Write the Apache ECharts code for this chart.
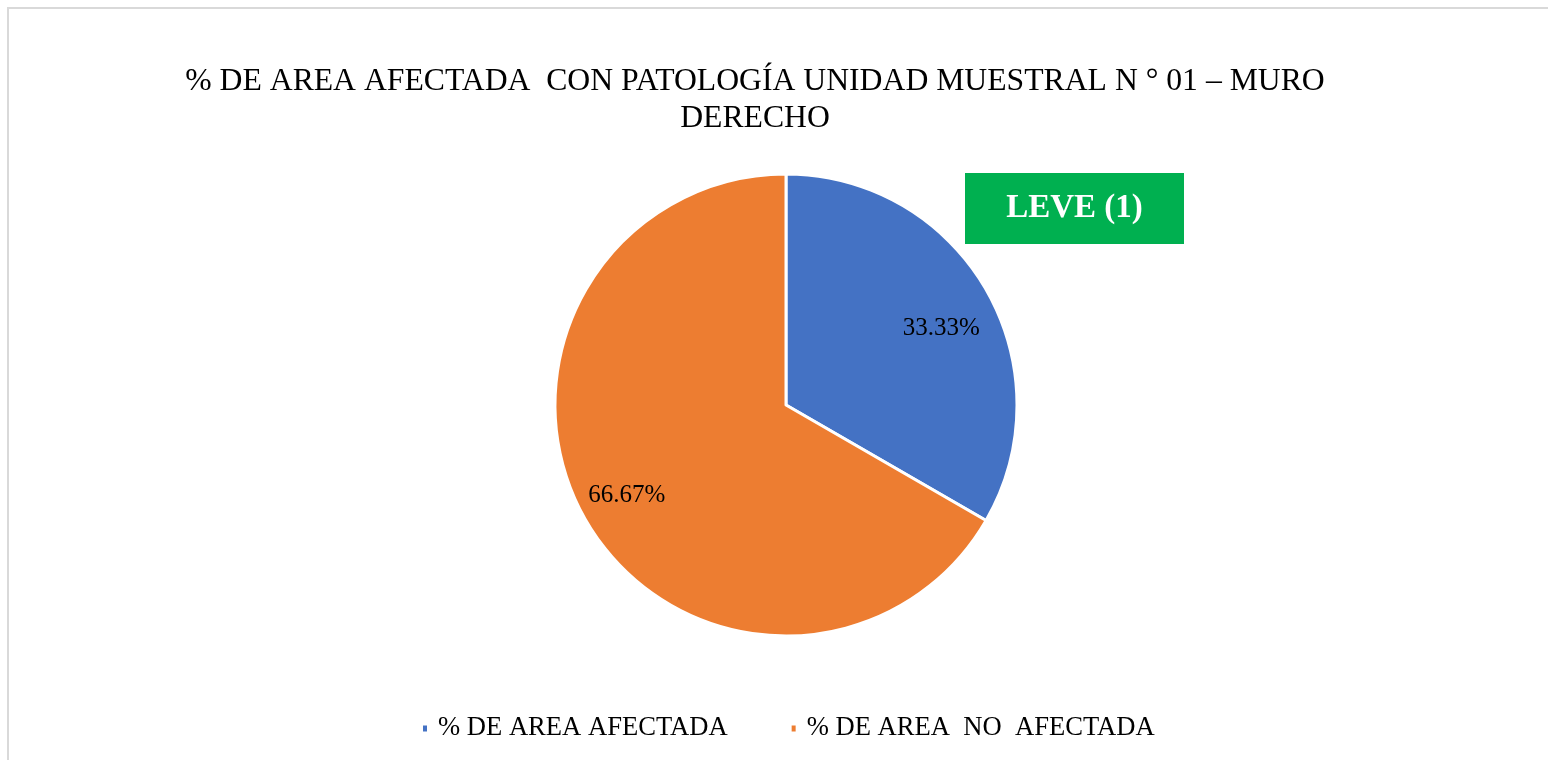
<!DOCTYPE html>
<html>
<head>
<meta charset="utf-8">
<script src="https://cdn.jsdelivr.net/npm/echarts@6/dist/echarts.min.js"></script>
<style>
html,body{margin:0;padding:0;background:#fff;}
#chart{width:1548px;height:760px;}
</style>
</head>
<body>
<div id="chart"></div>
<script>
const categories = ['% DE AREA AFECTADA', '% DE AREA  NO  AFECTADA'];
const values = [33.33, 66.67];
const colors = ['#4472C4', '#ED7D31'];
const titleText = '% DE AREA AFECTADA  CON PATOLOGÍA UNIDAD MUESTRAL N ° 01 – MURO\nDERECHO';
const badgeText = 'LEVE (1)';

const font = '"Liberation Serif", "Times New Roman", serif';
const chart = echarts.init(document.getElementById('chart'));
const data = categories.map((c, i) => ({ name: c, value: values[i], itemStyle: { color: colors[i] } }));
const labelOffsets = [[-1, 14], [-3, 0]];

chart.setOption({
  backgroundColor: '#fff',
  animation: false,
  title: {
    text: titleText,
    left: 750,
    top: 58,
    textAlign: 'center',
    textStyle: { fontFamily: font, fontSize: 31.7, fontWeight: 'normal', color: '#000', lineHeight: 37, align: 'center' }
  },
  legend: {
    top: 710,
    left: 416,
    icon: 'rect',
    itemWidth: 6,
    itemHeight: 8,
    itemGap: 62,
    textStyle: { fontFamily: font, fontSize: 26.6, color: '#000', padding: [0, 0, 0, 5] },
    data: categories
  },
  graphic: [
    { type: 'rect', shape: { x: 8, y: 8, width: 1600, height: 800 }, style: { fill: 'none', stroke: '#d9d9d9', lineWidth: 2 }, silent: true },
    { type: 'rect', shape: { x: 965, y: 173, width: 219, height: 71 }, style: { fill: '#00B050' }, silent: true },
    { type: 'text', x: 1074.5, y: 208, style: { text: badgeText, fill: '#fff', font: 'bold 33px ' + font, textAlign: 'center', textVerticalAlign: 'middle' }, silent: true }
  ],
  series: [
    {
      type: 'pie',
      center: [786, 405],
      radius: [0, 231],
      startAngle: 90,
      clockwise: true,
      data: data,
      label: { show: false },
      labelLine: { show: false },
      itemStyle: { borderColor: '#fff', borderWidth: 3 },
      emphasis: { disabled: true }
    },
    {
      type: 'pie',
      center: [786, 405],
      radius: [124, 231],
      startAngle: 90,
      clockwise: true,
      silent: true,
      data: data.map((d, i) => ({ name: d.name, value: d.value, itemStyle: { color: 'transparent' }, label: { offset: labelOffsets[i] } })),
      itemStyle: { color: 'transparent', borderWidth: 0 },
      label: { show: true, position: 'inside', formatter: p => p.value.toFixed(2) + '%', fontFamily: font, fontSize: 25, color: '#000' },
      labelLine: { show: false },
      emphasis: { disabled: true }
    }
  ]
});
</script>
</body>
</html>
